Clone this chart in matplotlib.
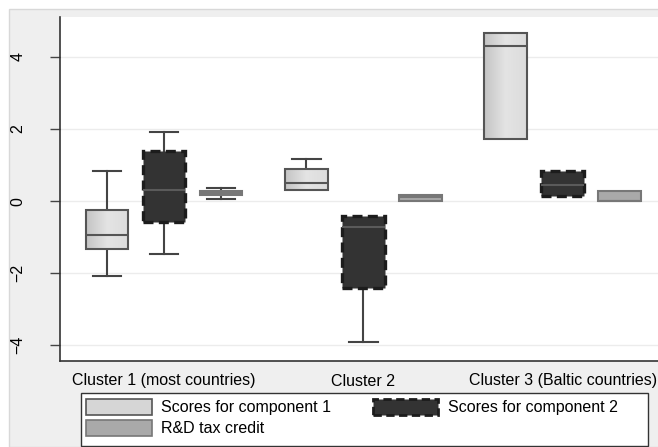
import matplotlib.pyplot as plt
import numpy as np
from matplotlib.patches import Patch, Rectangle
from matplotlib.colors import LinearSegmentedColormap

plt.rcParams['font.family'] = ['Liberation Sans', 'DejaVu Sans']

clusters = ['Cluster 1 (most countries)', 'Cluster 2', 'Cluster 3 (Baltic countries)']
series = ['Scores for component 1', 'Scores for component 2', 'R&D tax credit']

# whisker low, q1, median, q3, whisker high for each cluster
comp1_stats = [[-2.08, -1.33, -0.94, -0.24, 0.83],
               [0.32, 0.32, 0.49, 0.90, 1.18],
               [1.72, 1.72, 4.30, 4.67, 4.67]]
comp2_stats = [[-1.47, -0.58, 0.31, 1.39, 1.93],
               [-3.92, -2.42, -0.72, -0.42, -0.42],
               [0.15, 0.15, 0.44, 0.83, 0.83]]
rd_stats = [[0.07, 0.17, 0.22, 0.28, 0.36],
            [0.0, 0.0, 0.10, 0.17, 0.17],
            [0.0, 0.0, 0.0, 0.28, 0.28]]

yticks = [-4, -2, 0, 2, 4]

group_pos = [0, 3.5, 7]

fig = plt.figure(figsize=(6.58, 4.47), dpi=100, facecolor='white')
fig.patches.append(Rectangle((9 / 658, 0), 1, 1 - 9 / 447, transform=fig.transFigure,
                             facecolor='#efefef', edgecolor='#d8d8d8', lw=1, zorder=-10))
ax = fig.add_axes([60 / 658, 1 - 361 / 447, 1 - 60 / 658, (361 - 17) / 447])
ax.set_facecolor('white')


def make_stats(rows):
    return [dict(whislo=r[0], q1=r[1], med=r[2], q3=r[3], whishi=r[4], fliers=[]) for r in rows]


def hide_empty(bp):
    # Stata draws no whisker when it coincides with the box edge
    for i, w in enumerate(bp['whiskers']):
        yd = w.get_ydata()
        if abs(yd[0] - yd[1]) < 1e-9:
            w.set_visible(False)
            bp['caps'][i].set_visible(False)


styles = [
    dict(face='none', edge='#555555', ls='-', lw=1.5, med='#555555'),
    dict(face='#333333', edge='#1c1c1c', ls=(0, (3, 1.6)), lw=2.4, med='#5a5a5a'),
    dict(face='#a9a9a9', edge='#777777', ls='-', lw=1.5, med='#777777'),
]

box_sets = []
for k, stats in enumerate([comp1_stats, comp2_stats, rd_stats]):
    st = styles[k]
    pos = [g + k for g in group_pos]
    bp = ax.bxp(make_stats(stats), positions=pos, widths=0.75, patch_artist=True,
                showfliers=False,
                boxprops=dict(facecolor=st['face'], edgecolor=st['edge'], linestyle=st['ls'],
                              linewidth=st['lw'], zorder=3),
                medianprops=dict(color=st['med'], linewidth=1.5, zorder=4),
                whiskerprops=dict(color='#444444', linewidth=1.5),
                capprops=dict(color='#444444', linewidth=1.5),
                capwidths=0.5)
    hide_empty(bp)
    box_sets.append(bp)

# gradient fill for component 1 boxes
cmap = LinearSegmentedColormap.from_list('g', ['#c4c4c4', '#e4e4e4', '#dcdcdc'])
grad = np.linspace(0, 1, 64).reshape(1, -1)
for patch in box_sets[0]['boxes']:
    ext = patch.get_path().get_extents()
    im = ax.imshow(grad, extent=[ext.x0, ext.x1, ext.y0, ext.y1], aspect='auto',
                   cmap=cmap, zorder=2.5, interpolation='bilinear')
    im.set_clip_path(patch)

ax.set_xlim(-0.825, 9.67)
ax.set_ylim(-4.44, 5.11)

ax.set_yticks(yticks)
ax.set_yticklabels([str(t).replace('-', '\u2212') for t in yticks], rotation=90, va='center')
ax.tick_params(axis='y', length=7, width=1, color='#444444', pad=18, labelsize=11.5)
ax.set_xticks([g + 1 for g in group_pos])
ax.set_xticklabels(clusters)
ax.tick_params(axis='x', length=0, pad=9, labelsize=11.5)
ax.grid(axis='y', color='#ececec', linewidth=1)
ax.set_axisbelow(True)

for s in ['top', 'right']:
    ax.spines[s].set_visible(False)
for s in ['left', 'bottom']:
    ax.spines[s].set_color('#333333')
    ax.spines[s].set_linewidth(1.2)

handles = [
    Patch(facecolor='#d6d6d6', edgecolor='#555555', linewidth=1.2, label=series[0]),
    Patch(facecolor='#a9a9a9', edgecolor='#777777', linewidth=1.2, label=series[2]),
    Patch(facecolor='#333333', edgecolor='#1c1c1c', linestyle=(0, (3, 1.6)), linewidth=2,
          label=series[1]),
]
leg = fig.legend(handles=handles, ncol=2, loc='upper left',
                 bbox_to_anchor=(83 / 658, 1 - 396 / 447),
                 frameon=False, fontsize=11.5,
                 handlelength=4.1, handleheight=1.13, handletextpad=0.6,
                 labelspacing=0.3, columnspacing=2.6, borderpad=0.2, borderaxespad=0)
fig.patches.append(Rectangle((81 / 658, 1 - 446 / 447), (648 - 81) / 658, (446 - 393) / 447,
                             transform=fig.transFigure, facecolor='white',
                             edgecolor='#333333', lw=1, zorder=-5))

fig.savefig('out.png', dpi=100, facecolor=fig.get_facecolor())
